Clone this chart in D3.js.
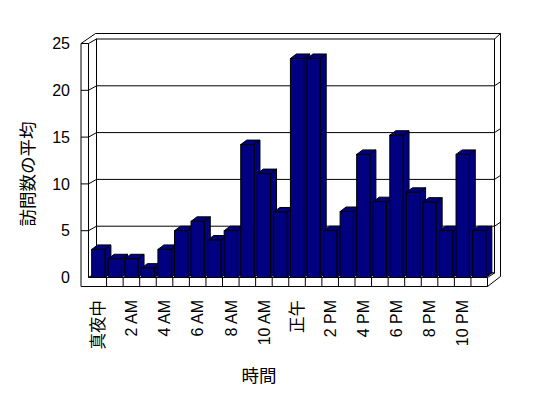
<!DOCTYPE html>
<html>
<head>
<meta charset="utf-8">
<script src="https://cdn.jsdelivr.net/npm/d3@7"></script>
<style>
  body { margin: 0; background: #fff; }
  text { font-family: "Liberation Sans", "Noto Sans CJK JP", sans-serif; fill: #000; }
</style>
</head>
<body>
<div id="chart-container"></div>
<script>
// Data

const hours = [
  '真夜中', '1 AM', '2 AM', '3 AM', '4 AM', '5 AM', '6 AM', '7 AM', '8 AM', '9 AM', '10 AM', '11 AM',
  '正午', '1 PM', '2 PM', '3 PM', '4 PM', '5 PM', '6 PM', '7 PM', '8 PM', '9 PM', '10 PM', '11 PM',
]
const visits = [3, 2, 2, 1, 3, 5, 6, 4, 5, 14.2, 11.1, 7, 23.4, 23.4, 5, 7.05, 13.15, 8.1, 15.2, 9.1, 8.05, 5, 13.15, 5]
const yTicks = [0, 5, 10, 15, 20, 25]

const yTitle = '訪問数の平均'
const xTitle = '時間'

// Frame geometry (oblique 3D box)

const W = 548
const H = 398
const wallOuter = 81
const wallInner = 88.5
const backL = 96.5
const backR = 494.5
const outerR = 500.5
const outerTop = 33.5
const floorFront = 277.5
const floorBottom = 286.5
const floorR = 487.5
const depth = { x: 6, y: -4.5 }

const x = d3.scaleBand()
  .domain(hours)
  .range([90, floorR])
  .paddingInner(0.2)
  .paddingOuter(0.1)

const y = d3.scaleLinear().domain([0, 25]).range([floorFront, 43.5])
const yBack = (v) => y(v) + depth.y

const svg = d3.select('#chart-container')
  .append('svg')
  .attr('width', W)
  .attr('height', H)

const frame = svg.append('g')
  .attr('fill', 'none')
  .attr('stroke', '#000')
  .attr('stroke-width', 1)

// Back wall face

frame.append('rect')
  .attr('x', backL)
  .attr('y', yBack(25))
  .attr('width', backR - backL)
  .attr('height', yBack(0) - yBack(25))
  .attr('fill', '#fff')

// Left wall inner face

frame.append('path')
  .attr('fill', '#fff')
  .attr('d', `M${wallInner},${y(25)}L${backL},${yBack(25)}L${backL},${yBack(0)}L${wallInner},${y(0)}Z`)

// Outer back edges

frame.append('path')
  .attr('d', `M${wallOuter},${y(25)}L${95.5},${outerTop}L${outerR},${outerTop}L${outerR},${yBack(0) + 3.5}L${floorR},${floorBottom}`)
frame.append('line')
  .attr('x1', backR).attr('y1', yBack(25))
  .attr('x2', outerR).attr('y2', outerTop)

// Gridlines on back wall, left wall and right edge

const grid = yTicks.filter((d) => d > 0 && d < 25)

frame.selectAll('.grid-back')
  .data(grid)
  .enter()
  .append('line')
  .attr('class', 'grid-back')
  .attr('x1', backL).attr('x2', backR)
  .attr('y1', (d) => yBack(d)).attr('y2', (d) => yBack(d))

frame.selectAll('.grid-left')
  .data(grid)
  .enter()
  .append('line')
  .attr('class', 'grid-left')
  .attr('x1', wallInner).attr('y1', (d) => y(d))
  .attr('x2', backL).attr('y2', (d) => yBack(d))

frame.selectAll('.grid-right')
  .data(grid)
  .enter()
  .append('line')
  .attr('class', 'grid-right')
  .attr('x1', backR).attr('y1', (d) => yBack(d))
  .attr('x2', outerR).attr('y2', (d) => yBack(d) - 4)

// Floor top

frame.append('path')
  .attr('fill', '#fff')
  .attr('d', `M${wallInner},${floorFront}L${floorR},${floorFront}L${backR},${yBack(0)}L${backL},${yBack(0)}Z`)

// Bars

const bars = svg.append('g')
  .attr('stroke', '#000')
  .attr('stroke-width', 1)
  .attr('fill', '#000080')
  .selectAll('g')
  .data(hours.map((h, i) => ({ hour: h, value: visits[i] })))
  .enter()
  .append('g')

const bw = x.bandwidth()

bars.append('path')
  .attr('d', (d) => {
    const x0 = x(d.hour) + bw
    const t = y(d.value)
    return `M${x0},${t}L${x0 + depth.x},${t + depth.y}L${x0 + depth.x},${y(0) + depth.y}L${x0},${y(0)}Z`
  })

bars.append('path')
  .attr('d', (d) => {
    const x0 = x(d.hour)
    const t = y(d.value)
    return `M${x0},${t}L${x0 + depth.x},${t + depth.y}L${x0 + bw + depth.x},${t + depth.y}L${x0 + bw},${t}Z`
  })

bars.append('rect')
  .attr('x', (d) => x(d.hour))
  .attr('y', (d) => y(d.value))
  .attr('width', bw)
  .attr('height', (d) => y(0) - y(d.value))

// Front faces: left wall + floor edge

const front = svg.append('g')
  .attr('fill', '#fff')
  .attr('stroke', '#000')
  .attr('stroke-width', 1)

front.append('path')
  .attr('d', `M${wallOuter},${y(25)}L${wallInner},${y(25)}L${wallInner},${floorFront}L${floorR},${floorFront}L${floorR},${floorBottom}L${wallOuter},${floorBottom}Z`)

front.selectAll('.ytick')
  .data(grid)
  .enter()
  .append('line')
  .attr('class', 'ytick')
  .attr('x1', wallOuter).attr('x2', wallInner)
  .attr('y1', (d) => y(d)).attr('y2', (d) => y(d))

const step = x.step()
front.selectAll('.xtick')
  .data(hours.slice(1))
  .enter()
  .append('line')
  .attr('class', 'xtick')
  .attr('x1', (d) => x(d) - step * 0.1).attr('x2', (d) => x(d) - step * 0.1)
  .attr('y1', floorFront).attr('y2', floorBottom)

// Axis labels

svg.selectAll('.ylabel')
  .data(yTicks)
  .enter()
  .append('text')
  .attr('class', 'ylabel')
  .attr('x', 70)
  .attr('y', (d) => y(d))
  .attr('dy', '0.36em')
  .attr('text-anchor', 'end')
  .style('font-size', '16px')
  .text((d) => d)

svg.selectAll('.xlabel')
  .data(hours.filter((d, i) => i % 2 === 0))
  .enter()
  .append('text')
  .attr('class', 'xlabel')
  .attr('transform', (d) => `translate(${x(d) + bw / 2},300) rotate(-90)`)
  .attr('dy', '0.36em')
  .attr('text-anchor', 'end')
  .style('font-size', (d) => (/[A-Z]/.test(d) ? '16px' : '16.5px'))
  .text((d) => d)

svg.append('text')
  .attr('transform', 'translate(28,174) rotate(-90)')
  .attr('text-anchor', 'middle')
  .attr('dy', '0.36em')
  .style('font-size', '17.5px')
  .text(yTitle)

svg.append('text')
  .attr('x', 259)
  .attr('y', 376)
  .attr('text-anchor', 'middle')
  .attr('dy', '0.36em')
  .style('font-size', '17.5px')
  .text(xTitle)
</script>
</body>
</html>
